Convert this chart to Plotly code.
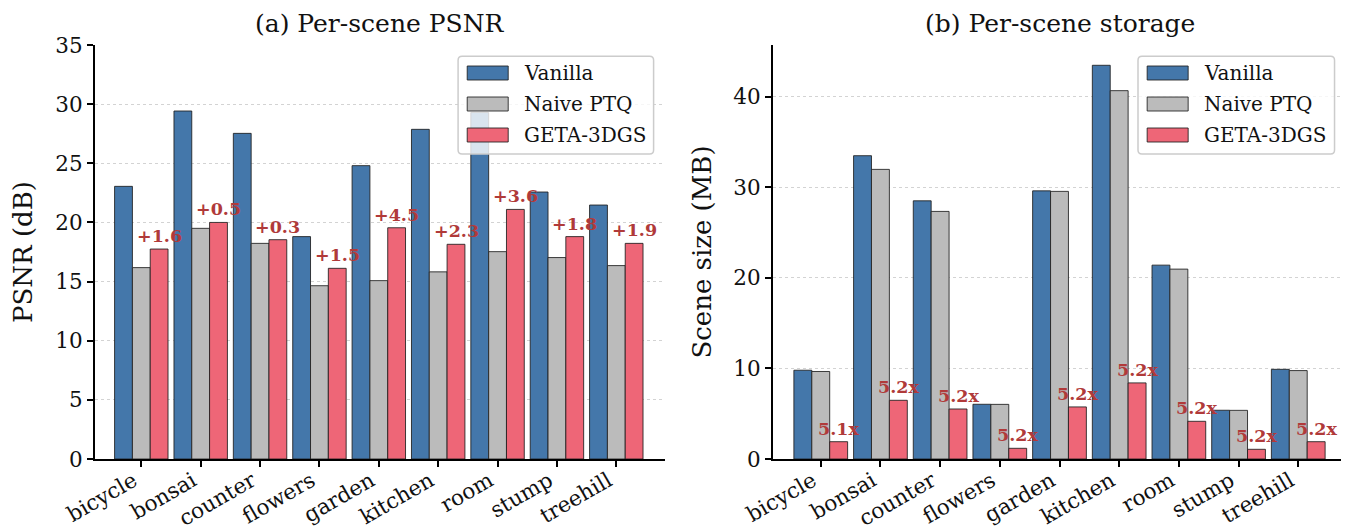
import plotly.graph_objects as go

# ---------------- data ----------------
scenes = ["bicycle", "bonsai", "counter", "flowers", "garden", "kitchen", "room", "stump", "treehill"]
series_names = ["Vanilla", "Naive PTQ", "GETA-3DGS"]

psnr_vanilla = [23.05, 29.42, 27.53, 18.8, 24.8, 27.87, 29.3, 22.57, 21.47]
psnr_naive = [16.18, 19.5, 18.23, 14.65, 15.08, 15.82, 17.53, 17.03, 16.35]
psnr_geta = [17.75, 20.0, 18.54, 16.12, 19.55, 18.15, 21.1, 18.8, 18.23]
psnr_gain_labels = ["+1.6", "+0.5", "+0.3", "+1.5", "+4.5", "+2.3", "+3.6", "+1.8", "+1.9"]

size_vanilla = [9.8, 33.48, 28.5, 6.04, 29.6, 43.46, 21.4, 5.38, 9.9]
size_naive = [9.66, 31.97, 27.33, 6.03, 29.54, 40.66, 20.96, 5.37, 9.76]
size_geta = [1.91, 6.48, 5.52, 1.18, 5.75, 8.4, 4.16, 1.07, 1.91]
size_ratio_labels = ["5.1x", "5.2x", "5.2x", "5.2x", "5.2x", "5.2x", "5.2x", "5.2x", "5.2x"]

psnr_ticks = [0, 5, 10, 15, 20, 25, 30, 35]
size_ticks = [0, 10, 20, 30, 40]

# ---------------- style ----------------
FONT = "DejaVu Serif"
colors = ["#4477AA", "#BBBBBB", "#EE6677"]
edge = "rgba(30,30,30,0.85)"
label_color = "#B03A3A"
OFF = 8  # page body margin of the html
W, H = 1349 - OFF, 531 - OFF
ML, MR, MT, MB = 95 - OFF, 3, 45 - OFF, 72
plot_w = W - ML - MR
plot_h = H - MT - MB

fig = go.Figure()
idx = list(range(len(scenes)))

def add_panel(vals_list, xa, ya):
    for name, vals, col in zip(series_names, vals_list, colors):
        fig.add_trace(go.Bar(
            x=idx, y=vals, name=name, marker=dict(color=col, line=dict(color=edge, width=1)),
            xaxis=xa, yaxis=ya, showlegend=False, offsetgroup=name,
        ))

add_panel([psnr_vanilla, psnr_naive, psnr_geta], "x", "y")
add_panel([size_vanilla, size_naive, size_geta], "x2", "y2")

annotations = []
shapes = []

for xa, ya, vals, labels in [("x", "y", psnr_geta, psnr_gain_labels), ("x2", "y2", size_geta, size_ratio_labels)]:
    for i, (v, t) in enumerate(zip(vals, labels)):
        annotations.append(dict(x=i + 0.3, y=v, xref=xa, yref=ya, text=t, showarrow=False,
                                yanchor="bottom", yshift=1,
                                font=dict(family=FONT, size=17.5, color=label_color, weight="bold")))

def add_legend(xr, yr, ax_px_w):
    x0, x1 = 0.637, 0.980
    y0, y1 = 0.737, 0.973
    rx, ry = 4 / ax_px_w, 4 / plot_h
    path = (f"M {x0+rx},{y0} L {x1-rx},{y0} Q {x1},{y0} {x1},{y0+ry} L {x1},{y1-ry} "
            f"Q {x1},{y1} {x1-rx},{y1} L {x0+rx},{y1} Q {x0},{y1} {x0},{y1-ry} "
            f"L {x0},{y0+ry} Q {x0},{y0} {x0+rx},{y0} Z")
    shapes.append(dict(type="path", path=path, xref=xr, yref=yr, layer="above",
                       fillcolor="rgba(255,255,255,0.8)", line=dict(color="#CCCCCC", width=1.5)))
    row_px = [73, 104, 135]
    for name, col, rp in zip(series_names, colors, row_px):
        yc = (459 - rp) / plot_h
        hh = 7 / plot_h
        sx0 = 0.653
        sx1 = sx0 + 41 / ax_px_w
        shapes.append(dict(type="rect", xref=xr, yref=yr, x0=sx0, x1=sx1, y0=yc - hh, y1=yc + hh,
                           fillcolor=col, line=dict(color=edge, width=1), layer="above"))
        annotations.append(dict(x=sx1 + 14 / ax_px_w, y=yc, xref=xr, yref=yr, text=name,
                                showarrow=False, xanchor="left", yanchor="middle",
                                font=dict(family=FONT, size=20, color="#111111")))

left_w = 570
right_w = 573
add_legend("x domain", "y domain", left_w)
add_legend("x2 domain", "y2 domain", right_w)

# titles
for txt, xc in [("(a) Per-scene PSNR", (380 - 95) / plot_w), ("(b) Per-scene storage", (1060 - 95) / plot_w)]:
    annotations.append(dict(x=xc, y=1 + MT / plot_h, xref="paper", yref="paper", text=txt,
                            showarrow=False, xanchor="center", yanchor="top", borderpad=0,
                            font=dict(family=FONT, size=25, color="#111111")))

axis_common = dict(showline=True, linecolor="black", linewidth=2, ticks="outside", ticklen=6,
                   tickwidth=1.5, tickcolor="black", mirror=False, zeroline=False,
                   tickfont=dict(family=FONT, size=21.5, color="#111111"))
xtick_extra = dict(ticklabelstandoff=-7, ticklabelshift=-8)

xdom_left = [0, left_w / plot_w]
xdom_right = [(773 - 95) / plot_w, 1]

fig.update_layout(
    width=W, height=H, margin=dict(l=ML, r=MR, t=MT, b=MB, autoexpand=False),
    plot_bgcolor="white", paper_bgcolor="white",
    barmode="group", bargap=0.1, bargroupgap=0,
    showlegend=False,
    xaxis=dict(domain=xdom_left, range=[-0.78, 8.82], tickvals=idx, ticktext=scenes, tickangle=-30,
               showgrid=False, anchor="y", **xtick_extra, **axis_common),
    yaxis=dict(domain=[0, 1], range=[0, 35], tickvals=psnr_ticks, showgrid=True, gridcolor="#D3D3D3",
               griddash="dot", gridwidth=1.2, anchor="x",
               title=dict(text="PSNR (dB)", font=dict(family=FONT, size=26, color="#111111"), standoff=16),
               **axis_common),
    xaxis2=dict(domain=xdom_right, range=[-0.8, 8.8], tickvals=idx, ticktext=scenes, tickangle=-30,
                showgrid=False, anchor="y2", **xtick_extra, **axis_common),
    yaxis2=dict(domain=[0, 1], range=[0, 45.7], tickvals=size_ticks, showgrid=True, gridcolor="#D3D3D3",
                griddash="dot", gridwidth=1.2, anchor="x2",
                title=dict(text="Scene size (MB)", font=dict(family=FONT, size=26, color="#111111"), standoff=14),
                **axis_common),
    annotations=annotations,
    shapes=shapes,
)

fig.write_html("out.html")
